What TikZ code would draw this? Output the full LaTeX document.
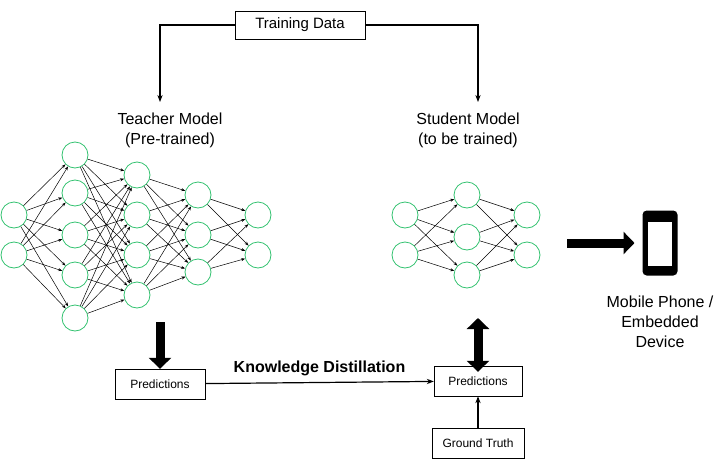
\documentclass[tikz,border=0pt]{standalone}
\usepackage{fontspec}
\setmainfont{Liberation Sans}
\usetikzlibrary{arrows.meta}
\begin{document}
\begin{tikzpicture}[x=1pt,y=-1pt,
  neu/.style={circle,draw=teal!60!green!80!white,thick,minimum size=26pt,inner sep=0pt,fill=white},
  box/.style={draw,fill=white,inner sep=3pt,font=\fontsize{12}{14}\selectfont},
  con/.style={-{Stealth[length=4pt,width=3pt]},line width=0.5pt},
  big/.style={line width=9pt,-{Triangle[length=11pt,width=22pt]}},
  lbl/.style={align=center,font=\fontsize{16}{20}\selectfont}]
\useasboundingbox (0,0) rectangle (724,472);
% teacher
\foreach \y [count=\i] in {215,255} \node[neu] (a\i) at (14,\y) {};
\foreach \y [count=\i] in {155,193,235,275,318} \node[neu] (b\i) at (75,\y) {};
\foreach \y [count=\i] in {175,215,255,295} \node[neu] (c\i) at (137,\y) {};
\foreach \y [count=\i] in {195,235,272} \node[neu] (d\i) at (198,\y) {};
\foreach \y [count=\i] in {215,255} \node[neu] (e\i) at (258,\y) {};
\foreach \i in {1,2} \foreach \j in {1,...,5} \draw[con] (a\i) -- (b\j);
\foreach \i in {1,...,5} \foreach \j in {1,...,4} \draw[con] (b\i) -- (c\j);
\foreach \i in {1,...,4} \foreach \j in {1,2,3} \draw[con] (c\i) -- (d\j);
\foreach \i in {1,2,3} \foreach \j in {1,2} \draw[con] (d\i) -- (e\j);
% student
\foreach \y [count=\i] in {215,255} \node[neu] (sa\i) at (405,\y) {};
\foreach \y [count=\i] in {195,237,275} \node[neu] (sb\i) at (467,\y) {};
\foreach \y [count=\i] in {215,255} \node[neu] (sc\i) at (527,\y) {};
\foreach \i in {1,2} \foreach \j in {1,2,3} \draw[con] (sa\i) -- (sb\j);
\foreach \i in {1,2,3} \foreach \j in {1,2} \draw[con] (sb\i) -- (sc\j);
% labels
\node[box,minimum width=130pt,minimum height=28pt,font=\fontsize{15}{18}\selectfont] (td) at (300,25) {Training Data};
\node[lbl] (tm) at (170,130) {Teacher Model\\(Pre-trained)};
\node[lbl] (sm) at (468,130) {Student Model\\(to be trained)};
\coordinate (tt) at (160,102); \coordinate (st) at (478,102);
\draw[line width=1.5pt,-{Stealth[length=7pt]}] (td.west) -| (tt);
\draw[line width=1.5pt,-{Stealth[length=7pt]}] (td.east) -| (st);
\node[box,minimum width=90pt,minimum height=30pt] (tp) at (160,384) {Predictions};
\node[box,minimum width=88pt,minimum height=30pt] (sp) at (478,381) {Predictions};
\node[box,minimum width=92pt,minimum height=30pt] (gt) at (478,443) {Ground Truth};
\coordinate (ta) at (160,322);
\draw[big] (ta) -- (tp.north);
\draw[line width=1.2pt,-{Stealth[length=7pt]}] (tp) -- node[above=3pt,font=\bfseries\fontsize{16}{19}\selectfont]{Knowledge Distillation} (sp);
\coordinate (sd) at (478,318);
\draw[line width=9pt,{Triangle[length=11pt,width=22pt]}-{Triangle[length=11pt,width=22pt]}] (sd) -- ([yshift=-6pt]sp.north);
\draw[line width=1.5pt,-{Stealth[length=7pt]}] (gt) -- (sp);
% phone
\node[draw,line width=3pt,rounded corners=3pt,minimum width=32pt,minimum height=62pt,fill=black,inner sep=0pt] (ph) at (660,243) {};
\fill[white] (648,222) rectangle (672,266);
\coordinate (ra) at (567,243);
\draw[big] (ra) -- ([xshift=-8pt]ph.west);
\node[lbl] (mp) at (660,322) {Mobile Phone /\\Embedded\\Device};
\end{tikzpicture}
\end{document}
